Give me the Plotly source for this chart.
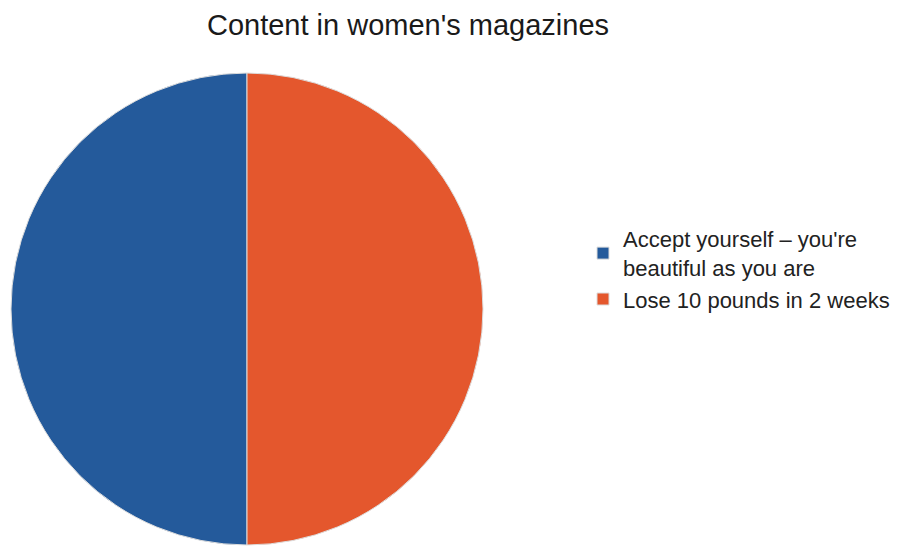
import plotly.graph_objects as go

labels = ["Accept yourself – you're<br>beautiful as you are", "Lose 10 pounds in 2 weeks"]
values = [50, 50]
colors = ["#245A9B", "#E4572D"]

W, H = 900, 546
cx, cy, r = 247, 309, 236

fig = go.Figure(go.Pie(
    labels=labels,
    values=values,
    sort=False,
    direction="clockwise",
    rotation=180,
    textinfo="none",
    hoverinfo="label+percent",
    marker=dict(colors=colors, line=dict(color="#dddddd", width=1)),
    domain=dict(x=[(cx - r) / W, (cx + r) / W], y=[(H - (cy + r)) / H, (H - (cy - r)) / H]),
))

fig.update_layout(
    width=W, height=H,
    margin=dict(l=0, r=0, t=0, b=0),
    paper_bgcolor="white",
    plot_bgcolor="white",
    font=dict(family="Liberation Sans, Arial, sans-serif", color="#222222"),
    title=dict(text="Content in women's magazines", x=408 / W, xanchor="center",
               y=1 - 25 / H, yanchor="middle", font=dict(size=29, color="#1a1a1a")),
    legend=dict(x=583 / W, xanchor="left", y=1 - 218 / H, yanchor="top",
                font=dict(size=22, color="#222222"), itemwidth=30,
                tracegroupgap=0, bgcolor="rgba(0,0,0,0)"),
    showlegend=True,
)

fig.write_html("out.html")
